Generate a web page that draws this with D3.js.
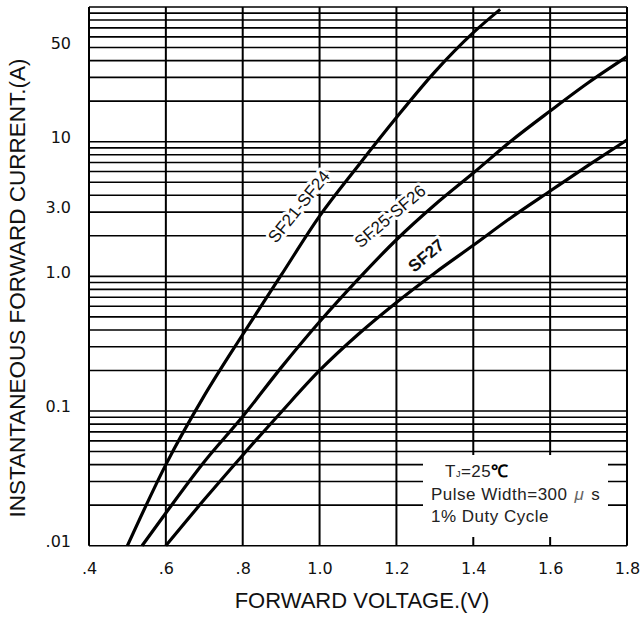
<!DOCTYPE html>
<html>
<head>
    <title>Forward Voltage vs Forward Current</title>
    <script src="https://d3js.org/d3.v7.min.js"></script>
    <style>
        body {
            margin: 0;
            background: #ffffff;
            font-family: "Liberation Sans", Arial, sans-serif;
        }
        .tick text {
            font-family: "DejaVu Sans", sans-serif;
            font-size: 16px;
            fill: #111;
        }
        .curve-label {
            font-size: 17px;
            fill: #111;
            stroke: #fff;
            stroke-width: 6px;
            paint-order: stroke;
            stroke-linejoin: round;
        }
    </style>
</head>
<body style="overflow: hidden;">
    <script>
    // chart data
    var voltage21 = [0.5, 0.6, 0.7, 0.8, 0.9, 1.0, 1.1, 1.2, 1.3, 1.4, 1.47];
    var current21 = [0.01, 0.04, 0.13, 0.37, 1.02, 2.8, 6.6, 15.1, 33, 64.5, 96];

    var voltage25 = [0.538, 0.6, 0.7, 0.8, 0.9, 1.0, 1.1, 1.2, 1.3, 1.4, 1.5, 1.6, 1.7, 1.8];
    var current25 = [0.01, 0.0175, 0.042, 0.091, 0.21, 0.46, 0.95, 1.87, 3.4, 5.85, 10.2, 16.9, 27.5, 42.8];

    var voltage27 = [0.6, 0.7, 0.8, 0.9, 1.0, 1.1, 1.2, 1.3, 1.4, 1.5, 1.6, 1.7, 1.8];
    var current27 = [0.01, 0.022, 0.047, 0.098, 0.2, 0.37, 0.64, 1.06, 1.7, 2.75, 4.3, 6.7, 10.3];

    var seriesNames = ["SF21-SF24", "SF25-SF26", "SF27"];

    // axis ticks
    var xTickValues = [0.4, 0.6, 0.8, 1.0, 1.2, 1.4, 1.6, 1.8];
    var xTickLabels = [".4", ".6", ".8", "1.0", "1.2", "1.4", "1.6", "1.8"];
    var yTickValues = [50, 10, 3, 1, 0.1, 0.01];
    var yTickLabels = ["50", "10", "3.0", "1.0", "0.1", ".01"];

    // log grid: 1..9 in every decade, plus the top line
    var decades = [0.01, 0.1, 1, 10];
    var multipliers = [1, 2, 3, 4, 5, 6, 7, 8, 9];

    var width = 642, height = 617;
    var margin = {top: 7, right: 15, bottom: 71.3, left: 89};

    var svg = d3.select("body").append("svg")
        .attr("width", width)
        .attr("height", height);

    var xscale = d3.scaleLinear()
        .domain([0.4, 1.8])
        .range([margin.left, width - margin.right]);

    var yscale = d3.scaleLog()
        .domain([0.01, 100])
        .range([height - margin.bottom, margin.top]);

    var gridY = [];
    decades.forEach(function(d) {
        multipliers.forEach(function(m) { gridY.push(d * m); });
    });
    gridY.push(100);

    // horizontal grid
    svg.append("g").selectAll("line")
        .data(gridY)
      .enter().append("line")
        .attr("x1", xscale(0.4))
        .attr("x2", xscale(1.8))
        .attr("y1", function(d) { return yscale(d); })
        .attr("y2", function(d) { return yscale(d); })
        .attr("stroke", "#000")
        .attr("stroke-width", 1.6);

    // vertical grid
    svg.append("g").selectAll("line")
        .data(xTickValues)
      .enter().append("line")
        .attr("x1", function(d) { return xscale(d); })
        .attr("x2", function(d) { return xscale(d); })
        .attr("y1", yscale(0.01))
        .attr("y2", yscale(100))
        .attr("stroke", "#000")
        .attr("stroke-width", 2);

    // white box behind the test conditions
    svg.append("rect")
        .attr("x", 423)
        .attr("y", 455)
        .attr("width", 185)
        .attr("height", 82)
        .attr("fill", "#fff");

    // curves
    var line = d3.line()
        .x(function(d) { return xscale(d[0]); })
        .y(function(d) { return yscale(d[1]); })
        .curve(d3.curveMonotoneX);

    var curves = [
        d3.zip(voltage21, current21),
        d3.zip(voltage25, current25),
        d3.zip(voltage27, current27)
    ];

    svg.append("g").selectAll("path")
        .data(curves)
      .enter().append("path")
        .attr("d", line)
        .attr("fill", "none")
        .attr("stroke", "#000")
        .attr("stroke-width", 3.2)
        .attr("stroke-linecap", "butt");

    // curve labels, set just left of each line
    var labelSpots = [
        {v: 0.946, i: 3.3, angle: -51, bold: false},
        {v: 1.183, i: 2.8, angle: -40, bold: false},
        {v: 1.277, i: 1.43, angle: -40, bold: true}
    ];

    svg.append("g").selectAll("text")
        .data(labelSpots)
      .enter().append("text")
        .attr("class", "curve-label")
        .attr("text-anchor", "middle")
        .attr("transform", function(d) {
            return "translate(" + xscale(d.v) + "," + yscale(d.i) + ") rotate(" + d.angle + ")";
        })
        .attr("dy", "0.35em")
        .style("font-weight", function(d) { return d.bold ? "bold" : "normal"; })
        .text(function(d, i) { return seriesNames[i]; });

    // axes (labels only, the grid is the frame)
    var xAxis = svg.append("g")
        .attr("transform", "translate(0," + yscale(0.01) + ")")
        .call(d3.axisBottom(xscale)
            .tickValues(xTickValues)
            .tickFormat(function(d, i) { return xTickLabels[i]; })
            .tickSize(0)
            .tickPadding(17));
    xAxis.select(".domain").remove();

    var yAxis = svg.append("g")
        .attr("transform", "translate(" + xscale(0.4) + ",0)")
        .call(d3.axisLeft(yscale)
            .tickValues(yTickValues)
            .tickFormat(function(d, i) { return yTickLabels[i]; })
            .tickSize(0)
            .tickPadding(18));
    yAxis.select(".domain").remove();
    yAxis.selectAll("text").attr("dy", "0.05em");

    // axis titles
    svg.append("text")
        .attr("x", 362)
        .attr("y", 608)
        .attr("text-anchor", "middle")
        .style("font-size", "22px")
        .style("fill", "#111")
        .text("FORWARD VOLTAGE.(V)");

    svg.append("text")
        .attr("transform", "translate(25,288) rotate(-90)")
        .attr("text-anchor", "middle")
        .style("font-size", "22.5px")
        .style("fill", "#111")
        .text("INSTANTANEOUS FORWARD CURRENT.(A)");

    // test conditions
    var note = svg.append("g")
        .style("font-size", "17px")
        .style("fill", "#222")
        .style("letter-spacing", "0.5px");

    var t1 = note.append("text").attr("x", 445).attr("y", 477);
    t1.append("tspan").text("T");
    t1.append("tspan").style("font-size", "9px").text("J");
    t1.append("tspan").text("=25");
    t1.append("tspan").style("font-weight", "bold").style("fill", "#000").text("\u2103");

    var t2 = note.append("text").attr("x", 431).attr("y", 500);
    t2.append("tspan").text("Pulse Width=300");
    t2.append("tspan").attr("dx", 7).style("font-style", "italic").style("fill", "#666").text("\u03bc");
    t2.append("tspan").attr("dx", 7).text("s");

    note.append("text").attr("x", 431).attr("y", 522).text("1% Duty Cycle");
    </script>
</body>
</html>
